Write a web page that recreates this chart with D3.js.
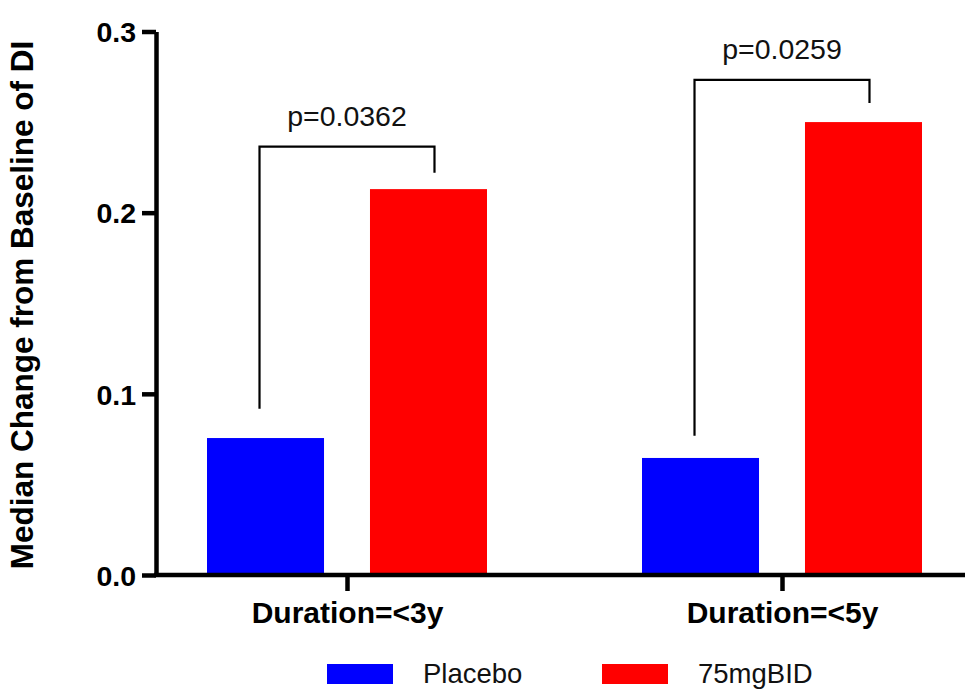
<!DOCTYPE html>
<html>
<head>
<meta charset="utf-8">
<script src="https://cdn.jsdelivr.net/npm/d3@7"></script>
<style>
  html, body { margin: 0; padding: 0; background: #fff; }
  svg { display: block; font-family: "Liberation Sans", Arial, Helvetica, sans-serif; }
</style>
</head>
<body>
<svg id="chart" width="965" height="691"></svg>
<script>
// ---- data ----
const categories = ["Duration=<3y", "Duration=<5y"];
const seriesNames = ["Placebo", "75mgBID"];
const placeboValues = [0.0756, 0.0646];
const bid75Values = [0.213, 0.250];
const yTicks = [0.0, 0.1, 0.2, 0.3];
const pLabels = ["p=0.0362", "p=0.0259"];
const bracketTop = [0.2365, 0.2733];
const bracketLeftEnd = [0.0918, 0.0769];
const bracketRightEnd = [0.222, 0.2606];
const colors = ["#0000FF", "#FF0000"];

// ---- layout ----
const W = 965, H = 691;
const axisX = 156, y0 = 575, yTop = 31.5;
const svg = d3.select("#chart");

const y = d3.scaleLinear().domain([0, 0.3]).range([y0, yTop]);
const xGroup = d3.scaleBand().domain(categories).range([129.5, 999.5]).padding(0);
const xInner = d3.scaleBand().domain(seriesNames).range([77.5, 357.5]).paddingInner(0.282).paddingOuter(0);

const values = [placeboValues, bid75Values];

// bars
const g = svg.append("g");
categories.forEach((c, i) => {
  seriesNames.forEach((s, j) => {
    const v = values[j][i];
    g.append("rect")
      .attr("x", xGroup(c) + xInner(s))
      .attr("y", y(v))
      .attr("width", xInner.bandwidth())
      .attr("height", y(0) - y(v))
      .attr("fill", colors[j]);
  });
});

// brackets
categories.forEach((c, i) => {
  const lx = xGroup(c) + xInner(seriesNames[0]) + xInner.bandwidth() / 2 - 6;
  const rx = xGroup(c) + xInner(seriesNames[1]) + xInner.bandwidth() / 2 + 6;
  const path = d3.path();
  path.moveTo(lx, y(bracketLeftEnd[i]));
  path.lineTo(lx, y(bracketTop[i]));
  path.lineTo(rx, y(bracketTop[i]));
  path.lineTo(rx, y(bracketRightEnd[i]));
  svg.append("path").attr("d", path.toString())
    .attr("fill", "none").attr("stroke", "#000").attr("stroke-width", 2.2);
  svg.append("text")
    .attr("x", (lx + rx) / 2)
    .attr("y", y(bracketTop[i]) - 21)
    .attr("text-anchor", "middle")
    .attr("font-size", 28.5)
    .attr("fill", "#111")
    .text(pLabels[i]);
});

// y axis
const yAxis = d3.axisLeft(y).tickValues(yTicks).tickFormat(d3.format(".1f"))
  .tickSize(14).tickSizeOuter(0).tickPadding(6);
const gy = svg.append("g").attr("transform", `translate(${axisX},0)`).call(yAxis);
gy.select(".domain").attr("stroke-width", 4.5);
gy.selectAll(".tick line").attr("stroke-width", 4.5);
gy.selectAll(".tick text").attr("font-size", 28.5).attr("font-weight", "bold")
  .attr("fill", "#000").attr("font-family", "Liberation Sans, Arial, sans-serif").attr("dy", "0.36em");

// x axis
svg.append("line").attr("x1", axisX - 2).attr("x2", W).attr("y1", y0).attr("y2", y0)
  .attr("stroke", "#000").attr("stroke-width", 4.5);
const xAxis = d3.axisBottom(d3.scalePoint().domain(categories)
  .range([xGroup(categories[0]) + xGroup.bandwidth() / 2, xGroup(categories[1]) + xGroup.bandwidth() / 2]))
  .tickSize(16).tickSizeOuter(0).tickPadding(0);
const gx = svg.append("g").attr("transform", `translate(0,${y0})`).call(xAxis);
gx.select(".domain").remove();
gx.selectAll(".tick line").attr("stroke-width", 4.5);
gx.selectAll(".tick text").attr("font-size", 30).attr("font-weight", "bold")
  .attr("fill", "#000").attr("font-family", "Liberation Sans, Arial, sans-serif")
  .attr("y", 48).attr("dy", 0);

// y title
svg.append("text")
  .attr("transform", `translate(33,305) rotate(-90)`)
  .attr("text-anchor", "middle")
  .attr("font-size", 31.5)
  .attr("font-weight", "bold")
  .attr("fill", "#000")
  .text("Median Change from Baseline of DI");

// legend
const legendX = [327, 602];
seriesNames.forEach((s, j) => {
  svg.append("rect").attr("x", legendX[j]).attr("y", 664).attr("width", 66).attr("height", 20).attr("fill", colors[j]);
  svg.append("text").attr("x", legendX[j] + 96).attr("y", 683)
    .attr("font-size", 27.5).attr("fill", "#111").text(s);
});
</script>
</body>
</html>
